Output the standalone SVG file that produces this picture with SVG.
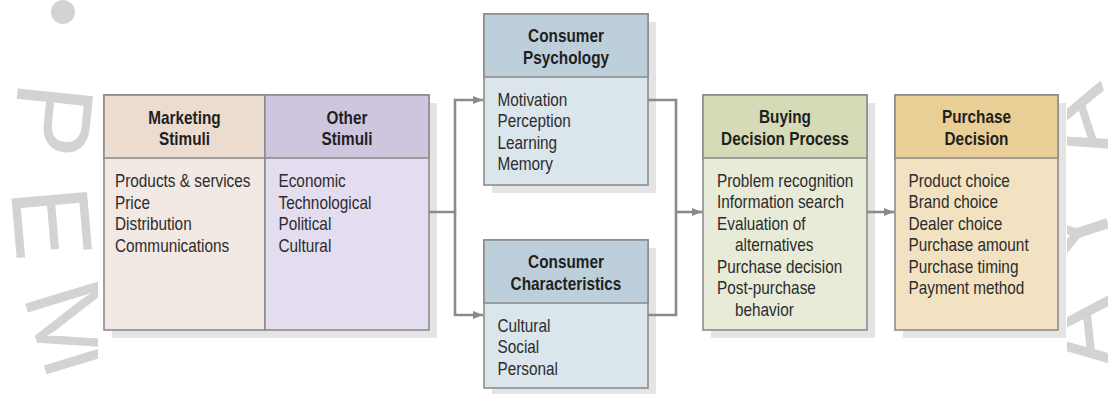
<svg xmlns="http://www.w3.org/2000/svg" width="1108" height="394" viewBox="0 0 1108 394">
  <style>
    .wm { font-family: "Liberation Sans", Arial, sans-serif; font-size: 110px; fill: #d3d3d3; text-anchor: middle; }
    .shadow { fill: #e4e4e4; }
    .frame { stroke: #8c8c8c; stroke-width: 1.6; }
    /* condensed type: Liberation Sans squeezed horizontally */
    .head { font-family: "Liberation Sans", Arial, sans-serif; font-size: 18.7px; font-weight: bold; fill: #1f1f1f; text-anchor: middle;
            transform-box: fill-box; transform-origin: 50% 50%; transform: scaleX(0.82); }
    .body { font-family: "Liberation Sans", Arial, sans-serif; font-size: 18.7px; fill: #2c2c2c;
            transform-box: fill-box; transform-origin: 0% 50%; transform: scaleX(0.82); }
    .link { fill: none; stroke: #8a8a8a; stroke-width: 2.6; }
  </style>
  <defs>
    <marker id="arrow" viewBox="0 0 10 8" refX="10" refY="4" markerWidth="11" markerHeight="8" markerUnits="userSpaceOnUse" orient="auto">
      <path d="M0 0 L10 4 L0 8 z" fill="#8a8a8a"/>
    </marker>
  </defs>

  <rect width="1108" height="394" fill="#ffffff"/>

  <!-- background seal lettering -->
  <g id="watermark">
    <circle cx="63" cy="12" r="12" fill="#d3d3d3"/>
    <text class="wm" transform="translate(15 116) rotate(96)">P</text>
    <text class="wm" transform="translate(14 226) rotate(85)">E</text>
    <text class="wm" transform="translate(36 339) rotate(73)">M</text>
    <text class="wm" transform="translate(1112 115) rotate(-108)">A</text>
    <text class="wm" transform="translate(1108 223) rotate(-108)">Y</text>
    <text class="wm" transform="translate(1115 330) rotate(-96)">A</text>
  </g>

  <!-- plain panel behind the model -->
  <rect x="98" y="0" width="969" height="394" fill="#ffffff"/>

  <!-- drop shadows -->
  <g id="shadows">
    <rect class="shadow" x="112" y="103" width="325" height="235"/>
    <rect class="shadow" x="492" y="22" width="164" height="171"/>
    <rect class="shadow" x="492" y="248" width="164" height="146"/>
    <rect class="shadow" x="711" y="103" width="164" height="235"/>
    <rect class="shadow" x="903" y="103" width="163" height="235"/>
  </g>

  <g id="connectors">
    <path class="link" d="M429 212 H455 V100 H483" marker-end="url(#arrow)"/>
    <path class="link" d="M455 212 V315 H483" marker-end="url(#arrow)"/>
    <path class="link" d="M648 100 H676 V315 H648"/>
    <path class="link" d="M676 212 H702" marker-end="url(#arrow)"/>
    <path class="link" d="M867 212 H894" marker-end="url(#arrow)"/>
  </g>

  <g id="marketing-stimuli">
    <rect class="frame" x="104" y="95" width="161" height="235" fill="#f2e8e4"/>
    <rect class="frame" x="104" y="95" width="161" height="63" fill="#ecdccf"/>
    <text class="head" x="184.5" y="124">Marketing</text>
    <text class="head" x="184.5" y="145.5">Stimuli</text>
    <text class="body" x="115" y="187.5">Products &amp; services</text>
    <text class="body" x="115" y="209">Price</text>
    <text class="body" x="115" y="230.5">Distribution</text>
    <text class="body" x="115" y="252">Communications</text>
  </g>

  <g id="other-stimuli">
    <rect class="frame" x="265" y="95" width="164" height="235" fill="#e4ddef"/>
    <rect class="frame" x="265" y="95" width="164" height="63" fill="#cec6df"/>
    <text class="head" x="347" y="124">Other</text>
    <text class="head" x="347" y="145.5">Stimuli</text>
    <text class="body" x="278.5" y="187.5">Economic</text>
    <text class="body" x="278.5" y="209">Technological</text>
    <text class="body" x="278.5" y="230.5">Political</text>
    <text class="body" x="278.5" y="252">Cultural</text>
  </g>

  <g id="consumer-psychology">
    <rect class="frame" x="484" y="14" width="164" height="171" fill="#dbe5ec"/>
    <rect class="frame" x="484" y="14" width="164" height="63" fill="#bccfdb"/>
    <text class="head" x="566" y="42.5">Consumer</text>
    <text class="head" x="566" y="64">Psychology</text>
    <text class="body" x="497.5" y="106">Motivation</text>
    <text class="body" x="497.5" y="127.5">Perception</text>
    <text class="body" x="497.5" y="149">Learning</text>
    <text class="body" x="497.5" y="170.5">Memory</text>
  </g>

  <g id="consumer-characteristics">
    <rect class="frame" x="484" y="240" width="164" height="148" fill="#dbe5ec"/>
    <rect class="frame" x="484" y="240" width="164" height="63" fill="#bccfdb"/>
    <text class="head" x="566" y="268.5">Consumer</text>
    <text class="head" x="566" y="290">Characteristics</text>
    <text class="body" x="497.5" y="332">Cultural</text>
    <text class="body" x="497.5" y="353.5">Social</text>
    <text class="body" x="497.5" y="375">Personal</text>
  </g>

  <g id="buying-decision-process">
    <rect class="frame" x="703" y="95" width="164" height="235" fill="#e7ebd7"/>
    <rect class="frame" x="703" y="95" width="164" height="63" fill="#d4dbb6"/>
    <text class="head" x="785" y="123.5">Buying</text>
    <text class="head" x="785" y="145">Decision Process</text>
    <text class="body" x="717" y="187">Problem recognition</text>
    <text class="body" x="717" y="208.5">Information search</text>
    <text class="body" x="717" y="230">Evaluation of</text>
    <text class="body" x="735" y="251.5">alternatives</text>
    <text class="body" x="717" y="273">Purchase decision</text>
    <text class="body" x="717" y="294.5">Post-purchase</text>
    <text class="body" x="735" y="316">behavior</text>
  </g>

  <g id="purchase-decision">
    <rect class="frame" x="895" y="95" width="163" height="235" fill="#f2e2c2"/>
    <rect class="frame" x="895" y="95" width="163" height="63" fill="#e9cf95"/>
    <text class="head" x="976.5" y="123.5">Purchase</text>
    <text class="head" x="976.5" y="145">Decision</text>
    <text class="body" x="908.5" y="187">Product choice</text>
    <text class="body" x="908.5" y="208.5">Brand choice</text>
    <text class="body" x="908.5" y="230">Dealer choice</text>
    <text class="body" x="908.5" y="251.5">Purchase amount</text>
    <text class="body" x="908.5" y="273">Purchase timing</text>
    <text class="body" x="908.5" y="294.5">Payment method</text>
  </g>
</svg>
